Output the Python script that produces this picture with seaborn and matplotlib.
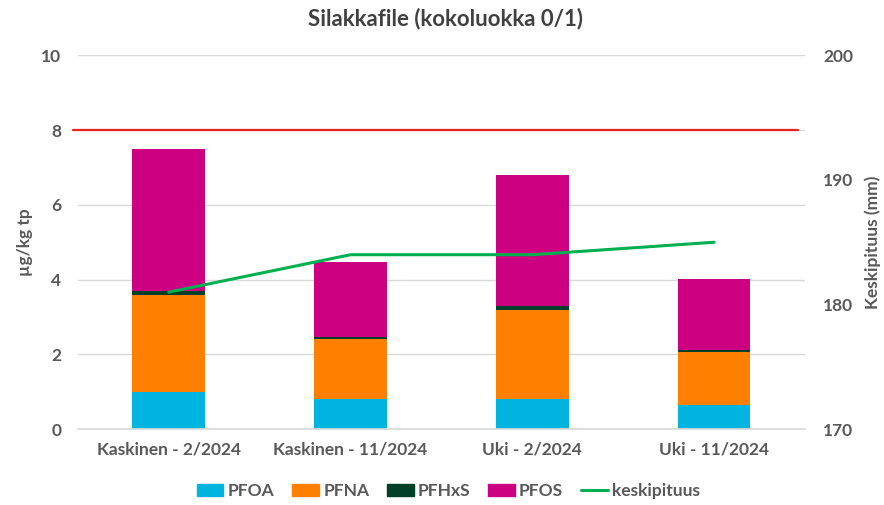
import numpy as np
import pandas as pd
import seaborn as sns
import matplotlib.pyplot as plt
from matplotlib.patches import Patch
from matplotlib.lines import Line2D

sites = ["Kaskinen - 2/2024", "Kaskinen - 11/2024", "Uki - 2/2024", "Uki - 11/2024"]
pfoa = [1.0, 0.8, 0.8, 0.66]
pfna = [2.6, 1.61, 2.4, 1.4]
pfhxs = [0.1, 0.06, 0.1, 0.05]
pfos = [3.8, 2.0, 3.5, 1.9]
keskipituus = [181, 184, 184, 185]
raja = 8

colors = {"PFOA": "#00b4e0", "PFNA": "#ff8000", "PFHxS": "#003f28", "PFOS": "#cc0080"}
line_color = "#00b050"
grey = "#595959"

sns.set_theme(style="white")
plt.rcParams["font.family"] = ["Lato", "DejaVu Sans"]

df = pd.DataFrame({"site": sites, "PFOA": pfoa, "PFNA": pfna, "PFHxS": pfhxs, "PFOS": pfos})
# cumulative sums, drawn from the top down so each layer covers the one below
cum = df[["PFOA", "PFNA", "PFHxS", "PFOS"]].cumsum(axis=1)

fig = plt.figure(figsize=(8.84, 5.05), dpi=100)
ax = fig.add_axes([0.0882, 0.150, 0.8224, 0.7406])

for comp in ["PFOS", "PFHxS", "PFNA", "PFOA"]:
    sns.barplot(x=df["site"], y=cum[comp], color=colors[comp], width=0.4,
                saturation=1, linewidth=0, edgecolor="none", ax=ax, zorder=2)

ax.axhline(raja, xmin=-0.007, xmax=0.99, color="#e8231e", linewidth=1.6,
           zorder=3, clip_on=False)

ax.set_ylim(0, 10)
ax.set_yticks(range(0, 11, 2))
ax.set_xlim(-0.5, 3.5)
ax.grid(axis="y", color="#d9d9d9", linewidth=1, zorder=0)
ax.set_axisbelow(True)
ax.set_xlabel("")
ax.set_ylabel("µg/kg tp", fontsize=12.5, fontweight="bold", color=grey, labelpad=6)
ax.tick_params(axis="y", length=0, labelsize=12.5, labelcolor=grey, pad=12)
ax.tick_params(axis="x", length=0, labelsize=12.5, labelcolor=grey, pad=9)
for lab in ax.get_xticklabels() + ax.get_yticklabels():
    lab.set_fontweight("bold")
sns.despine(ax=ax, left=True, bottom=False)
ax.spines["bottom"].set_color("#d9d9d9")

ax2 = ax.twinx()
sns.lineplot(x=np.arange(len(sites)), y=keskipituus, color=line_color, linewidth=2.2, ax=ax2, zorder=4)
ax2.set_ylim(170, 200)
ax2.set_yticks(range(170, 201, 10))
ax2.set_ylabel("Keskipituus (mm)", fontsize=12.5, fontweight="bold", color=grey, labelpad=8)
ax2.tick_params(axis="y", length=0, labelsize=12.5, labelcolor=grey, pad=13)
for lab in ax2.get_yticklabels():
    lab.set_fontweight("bold")
for s in ax2.spines.values():
    s.set_visible(False)

fig.suptitle("Silakkafile (kokoluokka 0/1)", x=0.504, y=0.985, fontsize=16,
             fontweight="bold", color="#404040")

handles = [Patch(color=colors[c]) for c in ["PFOA", "PFNA", "PFHxS", "PFOS"]]
handles.append(Line2D([0], [0], color=line_color, linewidth=2.2))
fig.legend(handles, ["PFOA", "PFNA", "PFHxS", "PFOS", "keskipituus"],
           loc="center", bbox_to_anchor=(0.507, 0.028), ncol=5, frameon=False,
           handlelength=1.55, handleheight=0.7, columnspacing=1.0, handletextpad=0.25,
           prop={"size": 12.5, "weight": "bold"}, labelcolor=grey)

fig.savefig("out.png", dpi=100)
